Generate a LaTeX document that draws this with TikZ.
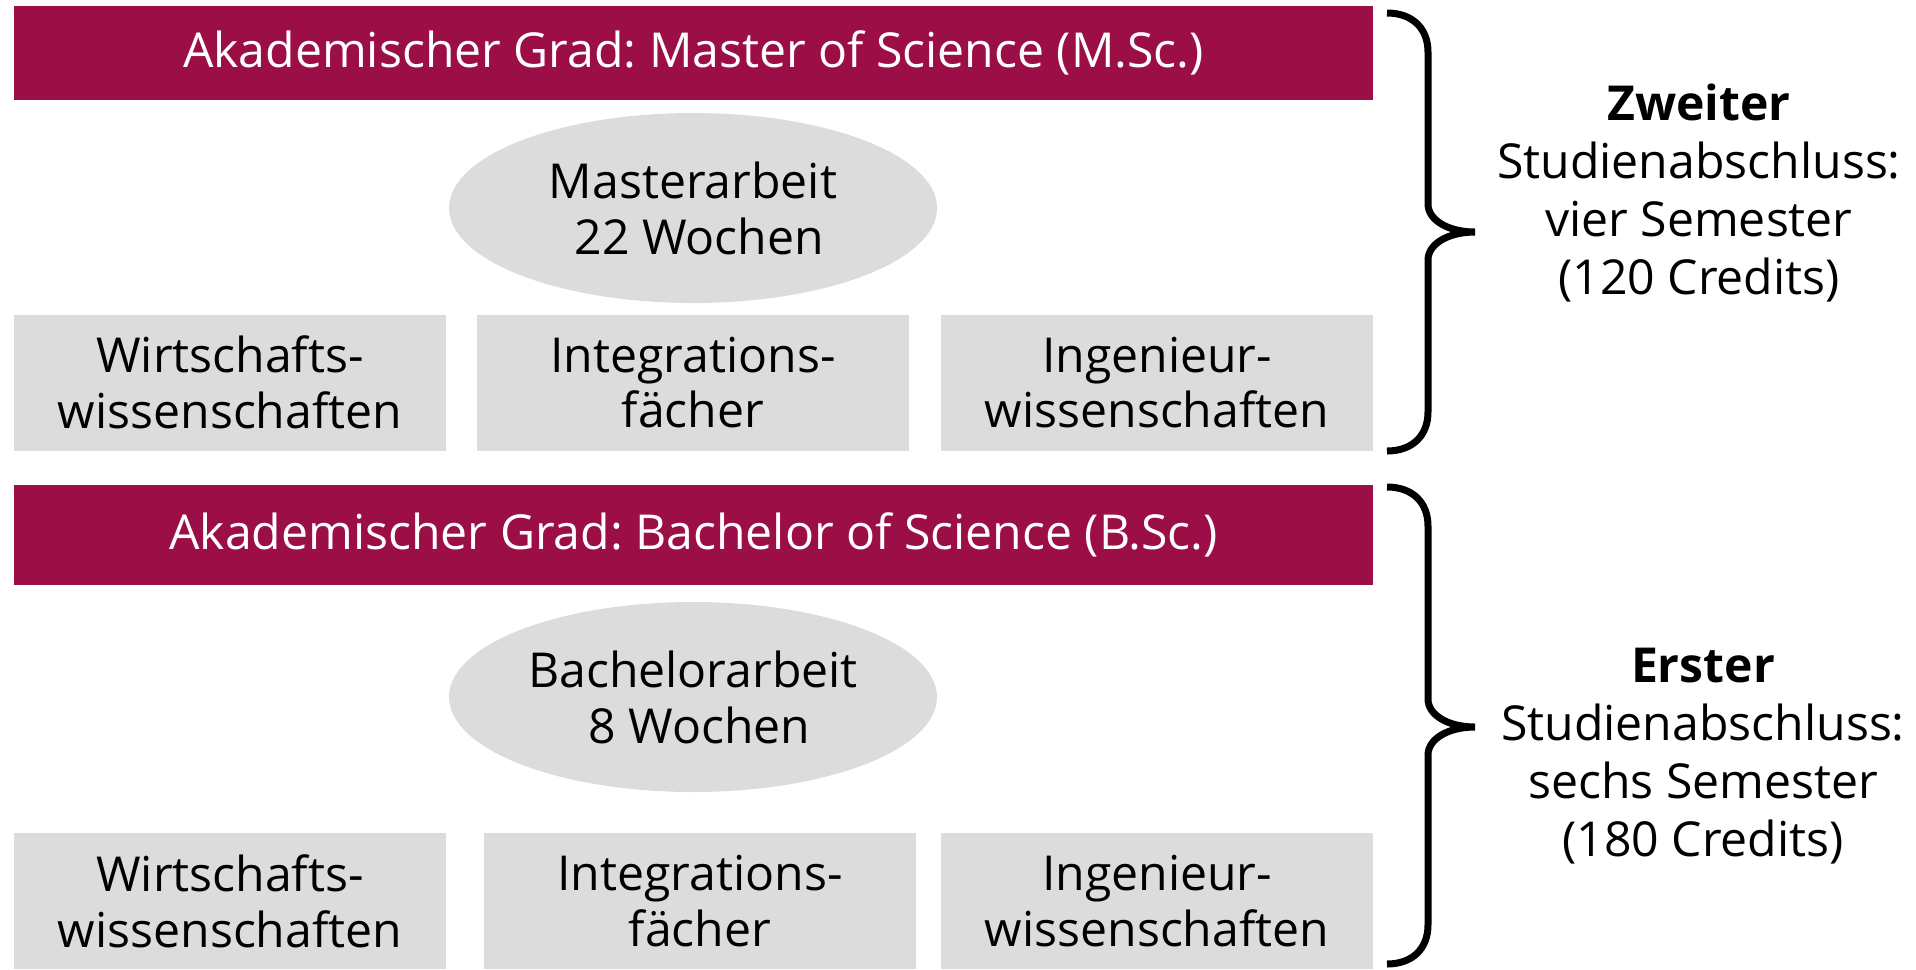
\documentclass[tikz,border=0pt]{standalone}
\usepackage{fontspec}
\setmainfont{Open Sans}
\usetikzlibrary{shapes.geometric}
\frenchspacing

\definecolor{weinrot}{RGB}{155,14,70}
\definecolor{hellgrau}{RGB}{220,220,220}

\begin{document}
\begin{tikzpicture}[
	grad/.style = {
		fill = weinrot,
		text = white,
		minimum width = 13.59cm,
		inner sep = 0pt,
		font = \fontsize{13.7pt}{15.9pt}\selectfont
	},
	arbeit/.style = {
		ellipse,
		fill = hellgrau,
		minimum width = 4.88cm,
		minimum height = 1.9cm,
		inner sep = 0pt,
		align = center,
		font = \fontsize{13.7pt}{15.9pt}\selectfont
	},
	fach/.style = {
		fill = hellgrau,
		minimum width = 4.32cm,
		minimum height = 1.36cm,
		inner sep = 0pt,
		align = center,
		font = \fontsize{13.7pt}{15.9pt}\selectfont
	},
	abschluss/.style = {
		align = center,
		inner sep = 0pt,
		font = \fontsize{13.7pt}{16.5pt}\selectfont
	},
	klammer/.style = {
		line width = 0.07cm
	}
	]
	\useasboundingbox (0,0) rectangle (19.16,-9.69);

	% Master
	\node[grad, minimum height = 0.94cm] (msc) at (6.935,-0.53) {Akademischer Grad: Master of Science (M.Sc.)};
	\node[arbeit] (marbeit) at (6.93,-2.08) {Masterarbeit\\\ 22 Wochen};
	\node[fach] (mwiwi) at (2.30,-3.825) {Wirtschafts-\\wissenschaften};
	\node[fach] (minteg) at (6.93,-3.825) {Integrations-\\fächer};
	\node[fach] (ming) at (11.57,-3.825) {Ingenieur-\\wissenschaften};

	% Bachelor
	\node[grad, minimum height = 1.0cm] (bsc) at (6.935,-5.35) {Akademischer Grad: Bachelor of Science (B.Sc.)};
	\node[arbeit] (barbeit) at (6.93,-6.97) {Bachelorarbeit\\\ 8 Wochen};
	\node[fach] (bwiwi) at (2.30,-9.01) {Wirtschafts-\\wissenschaften};
	\node[fach] (binteg) at (7.00,-9.01) {Integrations-\\fächer};
	\node[fach] (bing) at (11.57,-9.01) {Ingenieur-\\wissenschaften};

	% Klammern
	\draw[klammer] (13.87,-0.13) .. controls (14.12,-0.13) and (14.28,-0.28) .. (14.28,-0.52)
		-- (14.28,-2.04) .. controls (14.28,-2.20) and (14.48,-2.32) .. (14.75,-2.32)
		.. controls (14.48,-2.32) and (14.28,-2.44) .. (14.28,-2.60)
		-- (14.28,-4.12) .. controls (14.28,-4.36) and (14.12,-4.51) .. (13.87,-4.51);
	\draw[klammer] (13.87,-4.87) .. controls (14.12,-4.87) and (14.28,-5.02) .. (14.28,-5.26)
		-- (14.28,-6.99) .. controls (14.28,-7.15) and (14.48,-7.27) .. (14.75,-7.27)
		.. controls (14.48,-7.27) and (14.28,-7.39) .. (14.28,-7.55)
		-- (14.28,-9.25) .. controls (14.28,-9.49) and (14.12,-9.64) .. (13.87,-9.64);

	\node[abschluss] (zweiter) at (16.99,-1.93) {\textbf{Zweiter}\\Studienabschluss:\\vier Semester\\(120 Credits)};
	\node[abschluss] (erster) at (17.03,-7.56) {\textbf{Erster}\\Studienabschluss:\\sechs Semester\\(180 Credits)};
\end{tikzpicture}
\end{document}
